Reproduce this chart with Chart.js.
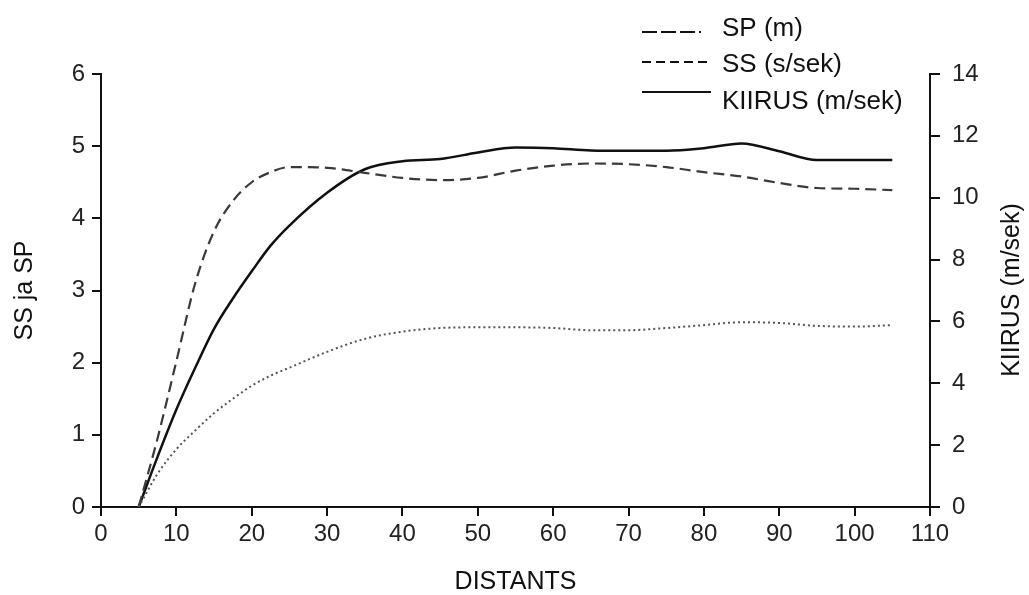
<!DOCTYPE html>
<html>
<head>
<meta charset="utf-8">
<style>
  html, body { margin: 0; padding: 0; background: #fff; }
  canvas { display: block; }
</style>
<script src="https://cdn.jsdelivr.net/npm/chart.js@4.4.1/dist/chart.umd.min.js"></script>
</head>
<body>
<canvas id="c" width="1029" height="595"></canvas>
<script>
// ---- data ----
const distances = [5, 7.5, 10, 12.5, 15, 17.5, 20, 22.5, 25, 30, 35, 40, 45, 50, 55, 60, 65, 70, 75, 80, 85, 90, 95, 100, 105];
const ssValues = [0, 0.95, 2.02, 3.1, 3.82, 4.24, 4.5, 4.64, 4.71, 4.7, 4.63, 4.56, 4.53, 4.56, 4.66, 4.73, 4.76, 4.75, 4.71, 4.64, 4.58, 4.49, 4.42, 4.41, 4.39];
const spValues = [0, 0.46, 0.8, 1.06, 1.3, 1.5, 1.68, 1.82, 1.93, 2.15, 2.33, 2.43, 2.48, 2.49, 2.49, 2.48, 2.45, 2.45, 2.48, 2.52, 2.56, 2.55, 2.51, 2.5, 2.52];
const kiirusValues = [0, 1.62, 3.15, 4.5, 5.76, 6.74, 7.62, 8.45, 9.1, 10.16, 10.92, 11.18, 11.25, 11.46, 11.62, 11.6, 11.53, 11.52, 11.52, 11.6, 11.75, 11.5, 11.22, 11.22, 11.22];
const seriesLabels = ['SP (m)', 'SS (s/sek)', 'KIIRUS (m/sek)'];
const xTicks = [0, 10, 20, 30, 40, 50, 60, 70, 80, 90, 100, 110];
const leftTicks = [0, 1, 2, 3, 4, 5, 6];
const rightTicks = [0, 2, 4, 6, 8, 10, 12, 14];
const xTitle = 'DISTANTS';
const leftTitle = 'SS ja SP';
const rightTitle = 'KIIRUS (m/sek)';

const FONT = '"Liberation Sans", Arial, sans-serif';
const toPoints = (vals) => distances.map((d, i) => ({ x: d, y: vals[i] }));

// legend samples (as in the reference legend) and right-axis title
const overlayPlugin = {
  id: 'overlay',
  afterDraw(chart) {
    const ctx = chart.ctx;
    ctx.save();
    const legendDash = [[15, 4, 15, 4, 15, 4, 2, 100], [9, 5], []];
    const lineY = [32, 62, 92];
    const textY = [29, 65, 102];
    ctx.strokeStyle = '#111';
    ctx.lineWidth = 2;
    ctx.fillStyle = '#111';
    ctx.font = '26px ' + FONT;
    ctx.textBaseline = 'middle';
    ctx.textAlign = 'left';
    chart.data.datasets.forEach((ds, i) => {
      ctx.setLineDash(legendDash[i]);
      ctx.beginPath();
      ctx.moveTo(642, lineY[i]);
      ctx.lineTo(711, lineY[i]);
      ctx.stroke();
      ctx.fillText(ds.label, 722, textY[i]);
    });
    ctx.setLineDash([]);
    // right axis title, reading bottom to top
    ctx.font = '25px ' + FONT;
    ctx.textAlign = 'center';
    ctx.translate(1012, 290);
    ctx.rotate(-Math.PI / 2);
    ctx.fillText(rightTitle, 0, 0);
    ctx.restore();
  }
};

const tickFont = { family: FONT, size: 24 };

new Chart(document.getElementById('c'), {
  type: 'line',
  data: {
    datasets: [
      { label: seriesLabels[0], data: toPoints(spValues), yAxisID: 'y',
        borderColor: '#555', borderWidth: 2, borderDash: [2, 3], pointRadius: 0,
        cubicInterpolationMode: 'monotone', fill: false },
      { label: seriesLabels[1], data: toPoints(ssValues), yAxisID: 'y',
        borderColor: '#3a3a3a', borderWidth: 2.2, borderDash: [11, 6], pointRadius: 0,
        cubicInterpolationMode: 'monotone', fill: false },
      { label: seriesLabels[2], data: toPoints(kiirusValues), yAxisID: 'y2',
        borderColor: '#111', borderWidth: 2.5, pointRadius: 0,
        cubicInterpolationMode: 'monotone', fill: false }
    ]
  },
  options: {
    responsive: false,
    animation: false,
    layout: { padding: { top: 74, left: 0, right: 0, bottom: 0 } },
    plugins: { legend: { display: false }, tooltip: { enabled: false } },
    scales: {
      x: {
        type: 'linear', min: 0, max: 110,
        afterBuildTicks: (s) => { s.ticks = xTicks.map(v => ({ value: v })); },
        afterFit: (s) => { s.height = 88; },
        ticks: { font: tickFont, color: '#222', padding: 4, maxRotation: 0, autoSkip: false },
        grid: { drawOnChartArea: false, drawTicks: true, tickLength: 9, color: '#111', lineWidth: 2 },
        border: { display: true, color: '#111', width: 2 },
        title: { display: true, text: xTitle, font: { family: FONT, size: 25, lineHeight: 1 }, color: '#111', padding: { top: 0, bottom: 0 } }
      },
      y: {
        position: 'left', min: 0, max: 6,
        afterBuildTicks: (s) => { s.ticks = leftTicks.map(v => ({ value: v })); },
        afterFit: (s) => { s.width = 101; },
        ticks: { font: tickFont, color: '#222', padding: 7 },
        grid: { drawOnChartArea: false, drawTicks: true, tickLength: 9, color: '#111', lineWidth: 2 },
        border: { display: true, color: '#111', width: 2 },
        title: { display: true, text: leftTitle, font: { family: FONT, size: 25, lineHeight: 1.2 }, color: '#111', padding: { top: 10, bottom: 0 } }
      },
      y2: {
        position: 'right', min: 0, max: 14,
        afterBuildTicks: (s) => { s.ticks = rightTicks.map(v => ({ value: v })); },
        afterFit: (s) => { s.width = 99; },
        ticks: { font: tickFont, color: '#222', padding: 12 },
        grid: { drawOnChartArea: false, drawTicks: true, tickLength: 10, color: '#111', lineWidth: 2 },
        border: { display: true, color: '#111', width: 2 }
      }
    }
  },
  plugins: [overlayPlugin]
});
</script>
</body>
</html>
